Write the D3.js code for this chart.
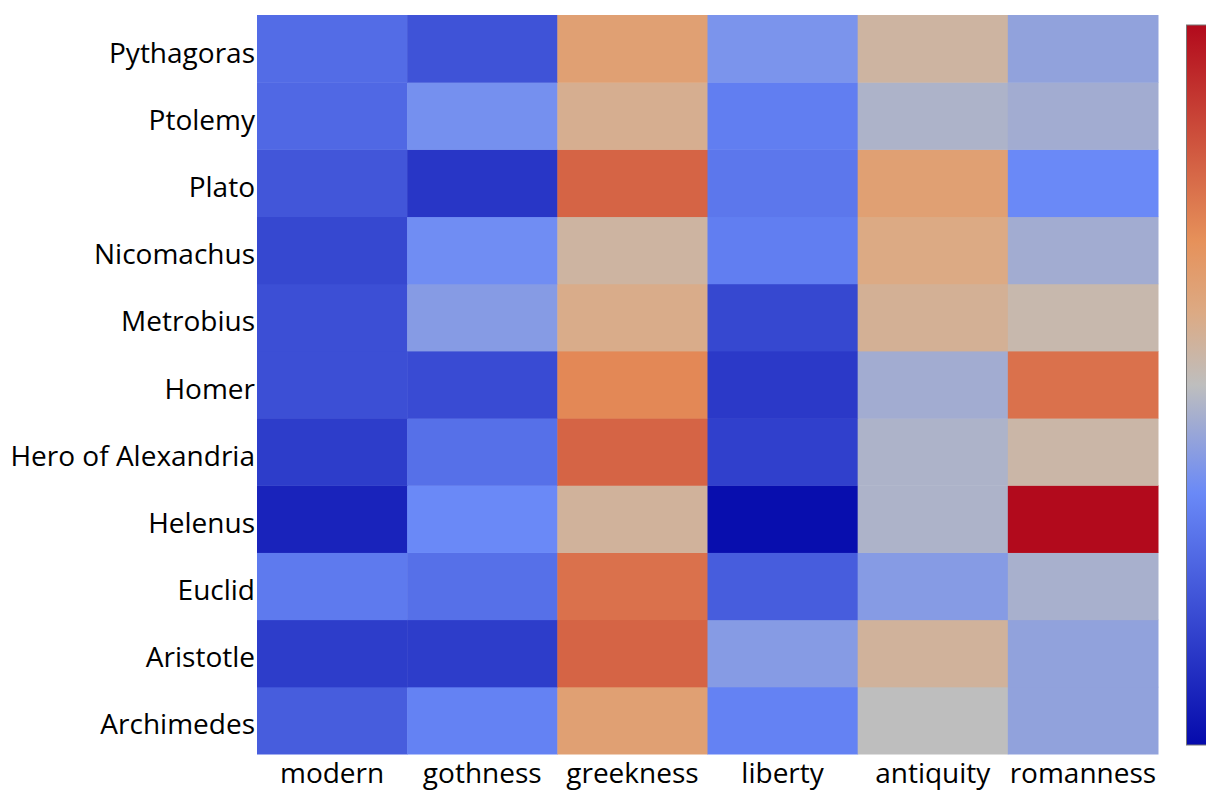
<!DOCTYPE html>
<html><head><meta charset="utf-8">
<script src="https://cdn.jsdelivr.net/npm/d3@7"></script>
<style>html,body{margin:0;padding:0;background:#fff;overflow:hidden}</style>
</head><body><svg id="c" width="1206" height="790"></svg>
<script>
const columns = ["modern","gothness","greekness","liberty","antiquity","romanness"];
const rows = ["Archimedes","Aristotle","Euclid","Helenus","Hero of Alexandria","Homer","Metrobius","Nicomachus","Plato","Ptolemy","Pythagoras"];
// values (0..1) per row, bottom to top, in column order
const Archimedes = [0.23,0.33,0.64,0.33,0.50,0.42];
const Aristotle = [0.14,0.14,0.80,0.40,0.56,0.42];
const Euclid = [0.31,0.28,0.77,0.23,0.40,0.46];
const Helenus = [0.07,0.35,0.56,0.01,0.47,1.00];
const Hero = [0.14,0.28,0.80,0.15,0.47,0.54];
const Homer = [0.19,0.18,0.72,0.13,0.45,0.77];
const Metrobius = [0.19,0.40,0.59,0.17,0.57,0.53];
const Nicomachus = [0.17,0.36,0.55,0.32,0.60,0.45];
const Plato = [0.21,0.12,0.80,0.30,0.64,0.35];
const Ptolemy = [0.26,0.37,0.58,0.32,0.47,0.45];
const Pythagoras = [0.27,0.20,0.64,0.38,0.55,0.42];
const values = [Archimedes,Aristotle,Euclid,Helenus,Hero,Homer,Metrobius,Nicomachus,Plato,Ptolemy,Pythagoras];

const stops = [0,0.35,0.5,0.6,0.7,1];
const stopColors = ["rgb(5,10,172)","rgb(106,137,247)","rgb(190,190,190)","rgb(220,170,132)","rgb(230,145,90)","rgb(178,10,28)"];
const color = d3.scaleLinear().domain(stops).range(stopColors).interpolate(d3.interpolateRgb).clamp(true);

const svg = d3.select("#c");
const L=257,R=1158,T=15,B=754;
const x = d3.scaleBand().domain(columns).range([L,R]);
const y = d3.scaleBand().domain(rows).range([B,T]);

const cells=[];
rows.forEach((r,i)=>columns.forEach((c,j)=>cells.push({r,c,v:values[i][j]})));
svg.append("g").selectAll("rect").data(cells).join("rect")
 .attr("x",d=>x(d.c)).attr("y",d=>y(d.r))
 .attr("width",x.bandwidth()+0.5).attr("height",y.bandwidth()+0.5)
 .attr("fill",d=>color(d.v));

const font="'Open Sans', sans-serif";
const ya = svg.append("g").attr("transform",`translate(${L},0)`).call(d3.axisLeft(y).tickSize(0).tickPadding(2));
ya.select(".domain").remove();
ya.selectAll("text").attr("font-family",font).attr("font-size",28).attr("fill","#000").attr("dy","0.5em");
const xa = svg.append("g").attr("transform",`translate(0,${B})`).call(d3.axisBottom(x).tickSize(0).tickPadding(9));
xa.select(".domain").remove();
xa.selectAll("text").attr("font-family",font).attr("font-size",28).attr("fill","#000");

// colorbar
const defs=svg.append("defs");
const lg=defs.append("linearGradient").attr("id","cb").attr("x1",0).attr("y1",1).attr("x2",0).attr("y2",0);
stops.forEach((s,i)=>lg.append("stop").attr("offset",s).attr("stop-color",stopColors[i]));
const cbY = d3.scaleLinear().domain([0,1]).range([745,25]);
svg.append("rect").attr("x",1186.5).attr("y",cbY(1)).attr("width",40).attr("height",cbY(0)-cbY(1))
 .attr("fill","url(#cb)").attr("stroke","#777").attr("stroke-width",1);
</script></body></html>
